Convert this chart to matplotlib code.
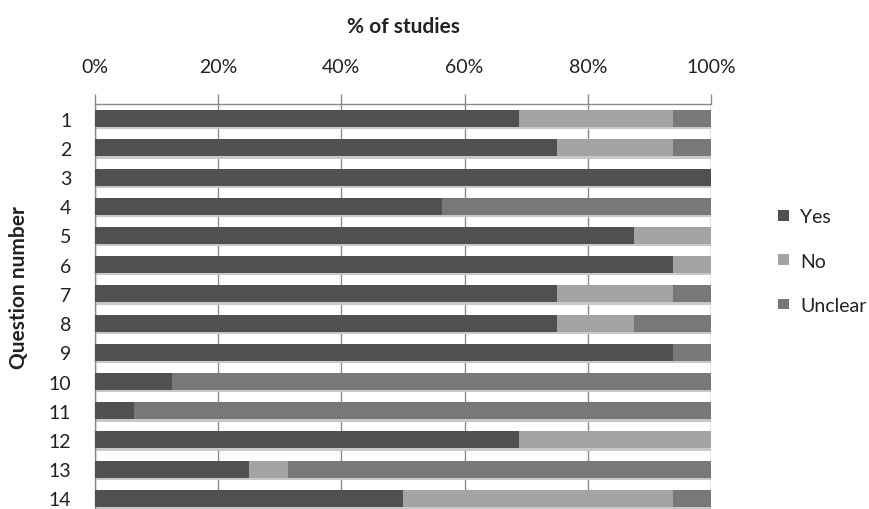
import matplotlib
matplotlib.use("Agg")
import matplotlib.pyplot as plt
from matplotlib.patches import Patch
import numpy as np

questions = ["1", "2", "3", "4", "5", "6", "7", "8", "9", "10", "11", "12", "13", "14"]
yes = [68.75, 75, 100, 56.25, 87.5, 93.75, 75, 75, 93.75, 12.5, 6.25, 68.75, 25, 50]
no = [25, 18.75, 0, 0, 12.5, 6.25, 18.75, 12.5, 0, 0, 0, 31.25, 6.25, 43.75]
unclear = [6.25, 6.25, 0, 43.75, 0, 0, 6.25, 12.5, 6.25, 87.5, 93.75, 0, 68.75, 6.25]
xticks = [0, 20, 40, 60, 80, 100]
xtick_labels = ["0%", "20%", "40%", "60%", "80%", "100%"]

plt.rcParams['font.family'] = ['Lato', 'DejaVu Sans']

W, H = 870, 510
fig = plt.figure(figsize=(W / 100, H / 100), dpi=100)
ax = fig.add_axes([95 / W, 1 - 514 / H, (711 - 95) / W, (514 - 105) / H])

c_yes, c_no, c_unc = "#505050", "#a4a4a4", "#787878"
fs = 14
y = np.arange(len(questions))
h = 0.58
yes_a = np.array(yes)
no_a = np.array(no)
unc_a = np.array(unclear)
total = yes_a + no_a + unc_a

# soft shadow under bars
ax.barh(y + 0.08, total, height=h, color="#c8c8c8", zorder=2, linewidth=0)
ax.barh(y, yes_a, height=h, color=c_yes, zorder=3, linewidth=0, label="Yes")
ax.barh(y, no_a, left=yes_a, height=h, color=c_no, zorder=3, linewidth=0, label="No")
ax.barh(y, unc_a, left=yes_a + no_a, height=h, color=c_unc, zorder=3, linewidth=0, label="Unclear")

ax.set_xlim(0, 100)
ax.set_ylim(len(questions) - 0.5, -0.5)
ax.xaxis.tick_top()
ax.set_xticks(xticks)
ax.set_xticklabels(xtick_labels, fontsize=fs, color="#222222")
ax.tick_params(axis="x", direction="out", length=7, width=1, color="#8a8a8a", pad=14)
ax.set_yticks(y)
ax.set_yticklabels(questions, fontsize=fs, color="#222222")
ax.tick_params(axis="y", length=0, pad=17)
for s in ["right", "bottom"]:
    ax.spines[s].set_visible(False)
for s in ["top", "left"]:
    ax.spines[s].set_color("#8a8a8a")
    ax.spines[s].set_linewidth(1)
ax.grid(axis="x", color="#8a8a8a", linewidth=1, zorder=1)
ax.set_axisbelow(True)

fig.text(403 / W, 1 - 27 / H, "% of studies", ha="center", va="center",
         fontsize=15, fontweight="bold", color="#222222")
fig.text(19 / W, 1 - 288 / H, "Question number", ha="center", va="center",
         rotation=90, fontsize=15, fontweight="bold", color="#222222")

handles = [Patch(facecolor=c_yes), Patch(facecolor=c_no), Patch(facecolor=c_unc)]
fig.legend(handles, ["Yes", "No", "Unclear"], loc="center left",
           bbox_to_anchor=(762 / W, 1 - 262 / H), frameon=False,
           handlelength=0.6, handleheight=0.45, handletextpad=0.55,
           borderpad=0.3, labelspacing=1.4, fontsize=fs, labelcolor="#222222")

fig.savefig("out.png", dpi=100)
